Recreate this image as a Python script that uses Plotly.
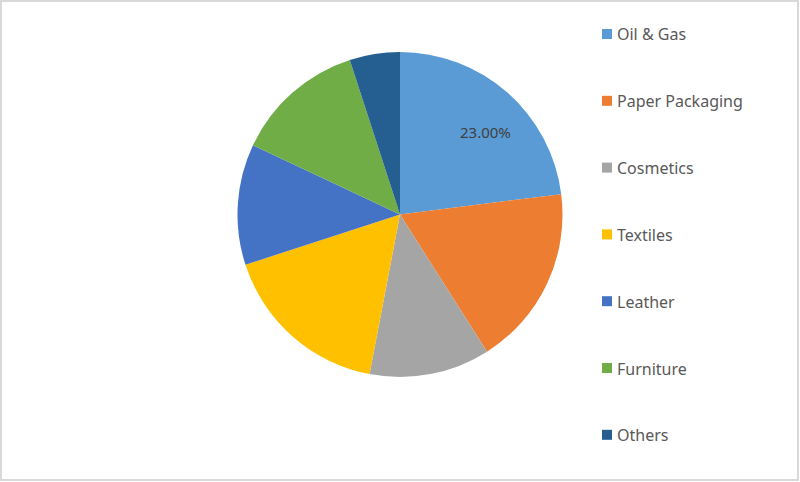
import math
import plotly.graph_objects as go

labels = ["Oil & Gas", "Paper Packaging", "Cosmetics", "Textiles", "Leather", "Furniture", "Others"]
values = [23.0, 18.0, 12.0, 17.0, 12.0, 13.0, 5.0]
colors = ["#5B9BD5", "#ED7D31", "#A5A5A5", "#FFC000", "#4472C4", "#70AD47", "#255E91"]
label_shown = [True, False, False, False, False, False, False]

W, H = 800, 482
# pie geometry in pixels
px0, px1 = 237, 563
py0, py1 = 52, 377
cx, cy = (px0 + px1) / 2, (py0 + py1) / 2
R = min(px1 - px0, py1 - py0) / 2

fig = go.Figure()
fig.add_trace(go.Pie(
    labels=labels,
    values=values,
    textinfo="none",
    marker=dict(colors=colors, line=dict(width=0)),
    sort=False,
    direction="clockwise",
    rotation=0,
    domain=dict(x=[px0 / W, px1 / W], y=[1 - py1 / H, 1 - py0 / H]),
    showlegend=False,
    hoverinfo="label+percent",
))

# data label placed inside its slice (Excel-style), derived from the values
total = sum(values)
cum = 0.0
for v, show in zip(values, label_shown):
    mid = (cum + v / 2) / total * 2 * math.pi + 0.08
    cum += v
    if not show:
        continue
    r = 0.73 * R
    x = cx + r * math.sin(mid)
    y = cy - r * math.cos(mid)
    fig.add_annotation(xref="paper", yref="paper", x=x / W, y=1 - y / H,
                       text=f"{v / total * 100:.2f}%", showarrow=False,
                       xanchor="center", yanchor="middle",
                       font=dict(family="Noto Sans", size=15, color="#404040"))

# Legend drawn as squares and labels (vertical spacing as in the reference)
legend_top = 34
legend_step = 66.8
for i, (lab, col) in enumerate(zip(labels, colors)):
    yc = legend_top + i * legend_step
    fig.add_shape(type="rect", xref="paper", yref="paper",
                  x0=602 / W, x1=612 / W, y0=1 - (yc + 5) / H, y1=1 - (yc - 5) / H,
                  fillcolor=col, line=dict(width=0))
    fig.add_annotation(xref="paper", yref="paper", x=615 / W, y=1 - (yc + 0.5) / H,
                       text=lab, showarrow=False, xanchor="left", yanchor="middle",
                       font=dict(family="Noto Sans", size=16, color="#595959"))

# Outer border
fig.add_shape(type="rect", xref="paper", yref="paper", x0=1 / W, x1=1 - 2 / W, y0=2 / H, y1=1 - 1 / H,
              line=dict(color="#D9D9D9", width=2), fillcolor="rgba(0,0,0,0)")

fig.update_layout(
    width=W, height=H,
    margin=dict(l=0, r=0, t=0, b=0),
    paper_bgcolor="white",
    plot_bgcolor="white",
)

fig.write_html("out.html", config={"displayModeBar": False},
               post_script="document.body.style.margin='0';document.body.style.overflow='hidden';")
